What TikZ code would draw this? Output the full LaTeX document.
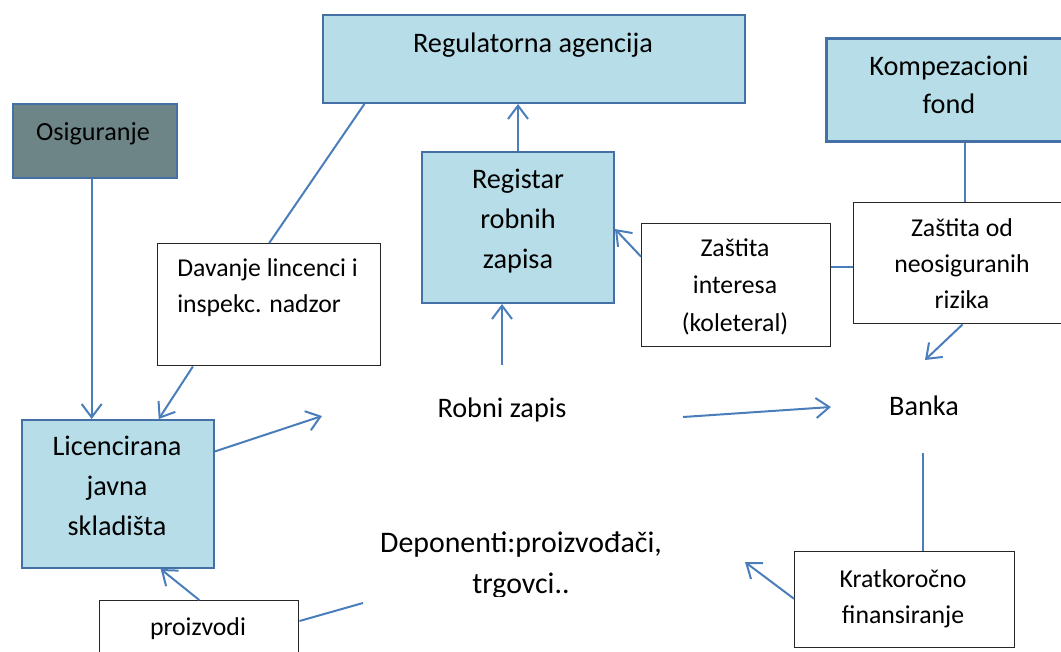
\documentclass[tikz,border=0pt]{standalone}
\usepackage{fontspec}
\setmainfont{Carlito}
\usetikzlibrary{calc,arrows.meta}

\definecolor{boxfill}{HTML}{B7DDE8}
\definecolor{boxedge}{HTML}{4470A6}
\definecolor{linkblue}{HTML}{4A7EBB}
\definecolor{insfill}{HTML}{6E8588}
\definecolor{plainedge}{HTML}{262626}

% box given by its top-left and bottom-right corners (in px units)
\newcommand{\placebox}[6]{%
  \node[#1, anchor=north west,
        minimum width={(#5-#3)*0.75pt}, minimum height={(#6-#4)*0.75pt}]
        (#2) at (#3,#4) {};}

\tikzset{
  bluebox/.style={draw=boxedge, fill=boxfill, line width=1.5pt, inner sep=0pt},
  greybox/.style={draw=boxedge, fill=insfill, line width=1.5pt, inner sep=0pt},
  plainbox/.style={draw=plainedge, fill=white, line width=1.1pt, inner sep=0pt},
  % labels are placed by the baseline of their last line
  txt/.style 2 args={font=\fontsize{#1}{#2}\selectfont, align=center, inner sep=0pt, anchor=base},
  link/.style={draw=linkblue, line width=1.5pt},
  arr/.style={link, -{Straight Barb[length=10pt,width=15pt]}},
}

\begin{document}
\begin{tikzpicture}[x=0.75pt,y=-0.75pt]
\useasboundingbox (0,0) rectangle (1061,651);
\clip (0,0) rectangle (1061,651);

% boxes
\placebox{bluebox}{reg}{322}{14}{744}{102}
\placebox{greybox}{osig}{12}{103}{176}{177}
\placebox{bluebox, line width=2.6pt}{komp}{825}{37}{1075}{140}
\placebox{bluebox}{reg2}{421}{151}{613}{302}
\placebox{plainbox}{zint}{641}{223}{830}{346}
\placebox{plainbox}{zod}{853}{202}{1075}{323}
\placebox{plainbox}{dav}{157}{243}{380}{365}
\placebox{bluebox}{lic}{21}{419}{213}{567}
\placebox{plainbox}{proiz}{99}{600}{298}{670}
\placebox{plainbox}{krat}{794}{551}{1014}{647}

% labels
\node[txt={21.2}{30}] (reg-t) at (533,52) {Regulatorna agencija};
\node[txt={19.6}{28}] (osig-t) at (93,140) {Osiguranje};
\node[txt={21.2}{28.5}] (komp-t) at (949,113) {Kompezacioni\\fond};
\node[txt={21.2}{30}] (reg2-t) at (518,268) {Registar\\robnih\\zapisa};
\node[txt={19.3}{28}] (zint-t) at (735,331) {Zaštita\\interesa\\(koleteral)};
\node[txt={19.3}{27}] (zod-t) at (962,308) {Zaštita od\\neosiguranih\\rizika};
\node[txt={19.3}{26.6}, align=left, anchor=base west] (dav-t) at (177,312) {Davanje lincenci i\\inspekc. nadzor};
\node[txt={21.2}{30}] (lic-t) at (117,535) {Licencirana\\javna\\skladišta};
\node[txt={19.3}{27}] (proiz-t) at (198,635) {proizvodi};
\node[txt={19.3}{27}] (krat-t) at (903,623) {Kratkoročno\\finansiranje};
\node[txt={21.2}{30}] (robni) at (502,417) {Robni zapis};
\node[txt={21.2}{30}] (banka) at (924,415) {Banka};
\begin{scope}
  \clip (300,500) rectangle (780,596);
  \node[txt={22.4}{30.75}] (dep) at (521,593) {Deponenti:proizvođači,\\trgovci..};
\end{scope}

% free ends of connectors
\coordinate (rz-up) at (502,365);
\coordinate (rz-in) at (322,416);
\coordinate (rz-out) at (683,417);
\coordinate (bank-l) at (831,407);
\coordinate (bank-in) at (925,360);
\coordinate (bank-dn) at (923,453);
\coordinate (dep-in) at (745,562);
\coordinate (dep-out) at (363,603);

% connectors
\coordinate (o1) at ($(osig.south west)!0.48!(osig.south east)$);
\draw[arr] (o1) -- (o1 |- lic.north);
\draw[link] ($(reg.south west)!0.1!(reg.south east)$) -- (dav.north);
\draw[arr] ($(dav.south west)!0.16!(dav.south east)$) -- ($(lic.north west)!0.71!(lic.north east)$);
\draw[arr] (reg2.north) -- (reg2.north |- reg.south);
\draw[arr] (rz-up) -- (rz-up |- reg2.south);
\draw[arr] ($(zint.north west)!0.27!(zint.south west)$) -- ($(reg2.north east)!0.51!(reg2.south east)$);
\coordinate (z1) at ($(zint.north east)!0.35!(zint.south east)$);
\draw[link] (z1) -- (z1 -| zod.west);
\coordinate (k1) at ($(komp.south west)!0.553!(komp.south east)$);
\draw[link] (k1) -- (k1 |- zod.north);
\draw[arr] ($(zod.south west)!0.49!(zod.south east)$) -- (bank-in);
\draw[arr] ($(lic.north east)!0.216!(lic.south east)$) -- (rz-in);
\draw[arr] (rz-out) -- (bank-l);
\draw[link] (bank-dn) -- (bank-dn |- krat.north);
\draw[arr] ($(krat.north west)!0.49!(krat.south west)$) -- (dep-in);
\draw[arr] (proiz.north) -- ($(lic.south west)!0.72!(lic.south east)$);
\draw[link] ($(proiz.north east)+(0,21)$) -- (dep-out);
\end{tikzpicture}
\end{document}
